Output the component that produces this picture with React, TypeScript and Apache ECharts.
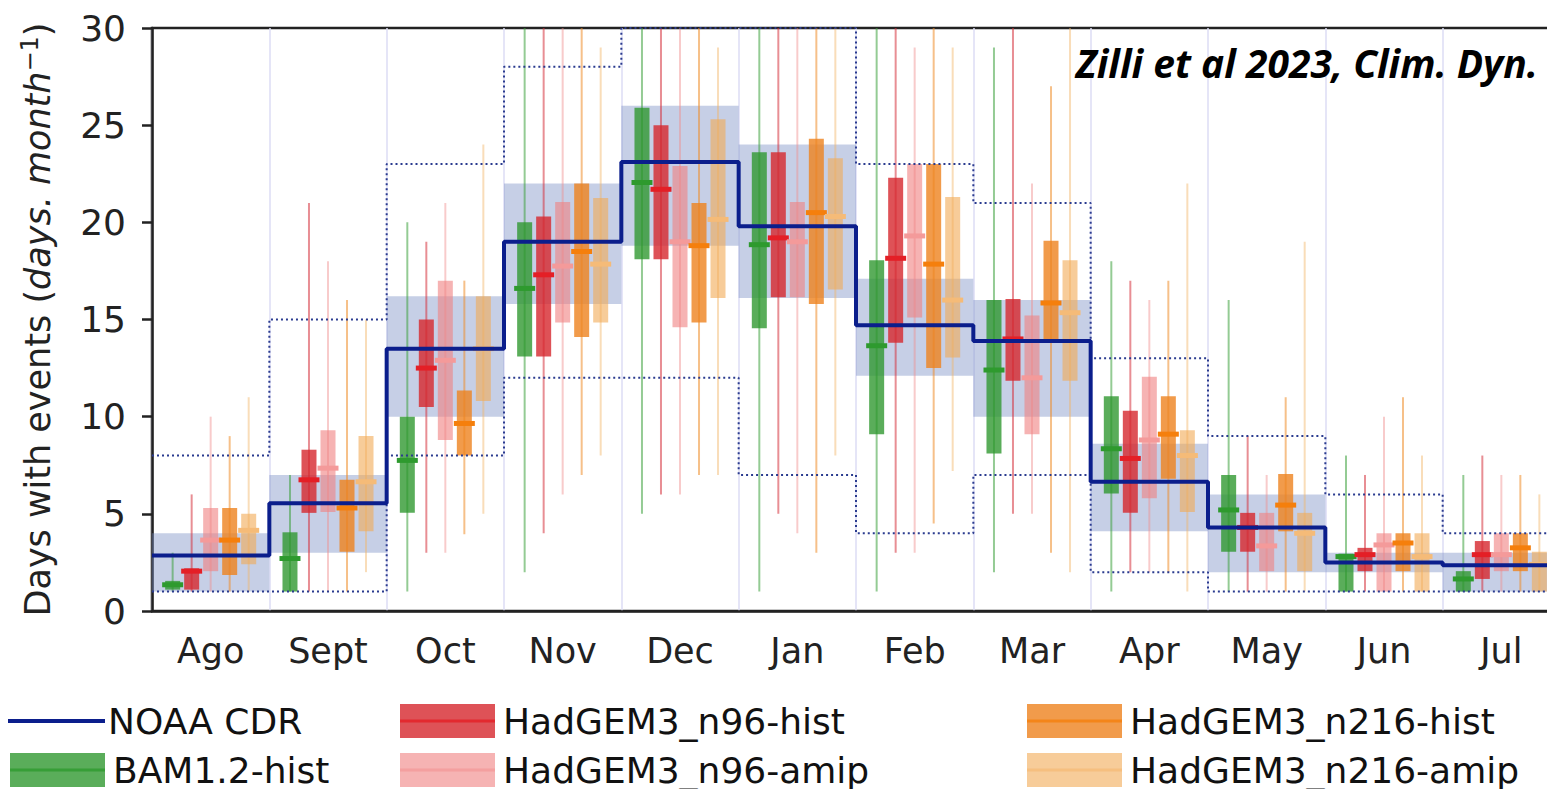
import React, { useEffect, useRef } from "react";
import * as echarts from "echarts";

// ---------------- DATA ----------------
const months = ["Ago", "Sept", "Oct", "Nov", "Dec", "Jan", "Feb", "Mar", "Apr", "May", "Jun", "Jul"];

// NOAA CDR observed value (step line)
const noaaCdr = [2.85, 5.55, 13.5, 19.0, 23.1, 19.8, 14.7, 13.9, 6.65, 4.3, 2.5, 2.35];
// shaded band around observations
const noaaBandLow = [1, 3, 10, 15.8, 18.8, 16.1, 12.1, 10, 4.1, 2, 2, 1];
const noaaBandHigh = [4, 7, 16.2, 22, 26, 24, 17.1, 16, 8.6, 6, 3, 3];
// dotted envelope
const noaaEnvLow = [1, 1, 8, 12, 12, 7, 4, 7, 2, 1, 1, 1];
const noaaEnvHigh = [8, 15, 23, 28, 30, 30, 23, 21, 13, 9, 6, 4];

// each model: per month [min, q1, median, q3, max]
const bamHist = [
  [1, 1.1, 1.35, 1.55, 3], [1, 1, 2.7, 4.05, 7], [1, 5.05, 7.75, 10, 20], [2, 13.1, 16.6, 20, 30],
  [5, 18.1, 22.05, 25.9, 30], [1, 14.55, 18.85, 23.6, 30], [1, 9.1, 13.65, 18.05, 30], [2, 8.1, 12.4, 16, 29],
  [1, 6.05, 8.35, 11.05, 18], [1, 3.05, 5.2, 7, 16], [1, 1, 2.8, 2.95, 8], [1, 1, 1.65, 2.05, 7],
];
const n96Hist = [
  [1, 1.1, 2.05, 2.2, 6], [1, 5.05, 6.75, 8.3, 21], [3, 10.5, 12.5, 15, 19], [4, 13.1, 17.3, 20.3, 30],
  [6, 18.1, 21.7, 25, 30], [5, 16.15, 19.2, 23.6, 30], [3, 13.8, 18.15, 22.3, 30], [5, 11.85, 14.0, 16.05, 30],
  [2, 5.05, 7.85, 10.3, 17], [1, 3.05, 4.3, 5.05, 9], [1, 2.05, 2.9, 3.25, 7], [1, 1.65, 2.9, 3.6, 8],
];
const n96Amip = [
  [1, 2.05, 3.65, 5.3, 10], [1, 5.1, 7.35, 9.3, 18], [3, 8.8, 12.9, 17, 21], [6, 14.85, 17.75, 21.05, 30],
  [6, 14.6, 19.0, 22.9, 30], [4, 16.15, 19.0, 21.05, 30], [3, 15.1, 19.3, 23, 29], [5, 9.1, 12.0, 15.2, 22],
  [2, 5.8, 8.8, 12.05, 16], [1, 2.05, 3.35, 5.05, 7], [1, 1, 3.4, 4, 10], [1, 2.05, 2.9, 4, 7],
];
const n216Hist = [
  [1, 1.85, 3.65, 5.3, 9], [1, 3.05, 5.3, 6.75, 16], [3.95, 8, 9.65, 11.35, 17], [7, 14.1, 18.5, 22, 30],
  [7, 14.85, 18.8, 21, 30], [3, 15.8, 20.5, 24.3, 30], [4.5, 12.5, 17.85, 23, 30], [3, 14, 15.85, 19.05, 27],
  [2, 6.8, 9.1, 11.05, 17], [1, 4.1, 5.45, 7.05, 11], [1, 2.05, 3.5, 4, 11], [1, 2.05, 3.25, 4, 7],
];
const n216Amip = [
  [1, 2.4, 4.15, 5, 11], [2, 4.1, 6.65, 9, 15], [5, 10.8, 13.5, 16.2, 24], [8, 14.85, 17.85, 21.25, 29],
  [7, 16.1, 20.15, 25.3, 29], [8, 16.55, 20.3, 23.3, 30], [7.2, 13.05, 16.0, 21.3, 29], [2, 11.85, 15.35, 18.05, 30],
  [1, 5.1, 8.0, 9.3, 22], [1, 2.05, 4.0, 5.05, 19], [1, 1, 2.8, 4, 8], [1, 1, 2.4, 3.05, 6],
];

// ---------------- STYLES ----------------
const FONT = "DejaVu Sans";
const models = [
  { name: "BAM1.2-hist", data: bamHist, box: "rgba(44,150,44,0.78)", med: "#2e9a2e", wh: "rgba(60,160,60,0.55)" },
  { name: "HadGEM3_n96-hist", data: n96Hist, box: "rgba(214,39,45,0.8)", med: "#e41f26", wh: "rgba(214,50,60,0.55)" },
  { name: "HadGEM3_n96-amip", data: n96Amip, box: "rgba(240,128,128,0.6)", med: "#f49a9a", wh: "rgba(240,140,140,0.45)" },
  { name: "HadGEM3_n216-hist", data: n216Hist, box: "rgba(238,130,30,0.8)", med: "#f57f0c", wh: "rgba(238,140,40,0.55)" },
  { name: "HadGEM3_n216-amip", data: n216Amip, box: "rgba(242,170,85,0.6)", med: "#f5bb78", wh: "rgba(242,180,100,0.45)" },
];
const NAVY = "#0b1e8c";
const BAND = "rgba(120,140,195,0.42)";

function stepData(vals: number[]) {
  const d = vals.map((v, i) => [i, v]);
  d.push([vals.length, vals[vals.length - 1]]);
  return d;
}

export default function App() {
  const ref = useRef<HTMLDivElement>(null);
  useEffect(() => {
    if (!ref.current) return;
    const chart = echarts.init(ref.current, undefined, { renderer: "svg" });

    const bandSeries = {
      type: "custom",
      xAxisIndex: 1,
      z: 1,
      data: months.map((_, i) => [i, noaaBandLow[i], noaaBandHigh[i]]),
      encode: { x: 0, y: [1, 2] },
      renderItem: (_p: any, api: any) => {
        const i = api.value(0);
        const a = api.coord([i, api.value(2)]);
        const b = api.coord([i + 1, api.value(1)]);
        return { type: "rect", shape: { x: a[0], y: a[1], width: b[0] - a[0], height: b[1] - a[1] }, style: { fill: BAND } };
      },
    };

    const modelSeries = models.map((m, mi) => ({
      type: "custom",
      name: m.name,
      xAxisIndex: 1,
      z: 3,
      data: months.map((_, i) => [i, ...m.data[i]]),
      encode: { x: 0, y: [1, 2, 3, 4, 5] },
      renderItem: (_p: any, api: any) => {
        const i = api.value(0);
        const xc = i + 0.5 + (mi - 2) * 0.162;
        const pMin = api.coord([xc, api.value(1)]);
        const pQ1 = api.coord([xc, api.value(2)]);
        const pMed = api.coord([xc, api.value(3)]);
        const pQ3 = api.coord([xc, api.value(4)]);
        const pMax = api.coord([xc, api.value(5)]);
        const bw = 15, mw = 21;
        return {
          type: "group",
          children: [
            { type: "line", shape: { x1: pMin[0], y1: pMin[1], x2: pMax[0], y2: pMax[1] }, style: { stroke: m.wh, lineWidth: 2 } },
            { type: "rect", shape: { x: pQ1[0] - bw / 2, y: pQ3[1], width: bw, height: pQ1[1] - pQ3[1] }, style: { fill: m.box } },
            { type: "line", shape: { x1: pMed[0] - mw / 2, y1: pMed[1], x2: pMed[0] + mw / 2, y2: pMed[1] }, style: { stroke: m.med, lineWidth: 5 } },
          ],
        };
      },
    }));

    const lineCommon = { type: "line", xAxisIndex: 1, step: "end", symbol: "none", silent: true };

    const legendItems = [
      { label: "NOAA CDR", x: 8, y: 721, kind: "line", color: NAVY, med: NAVY },
      { label: models[1].name, x: 400, y: 721, kind: "box", color: models[1].box, med: models[1].med },
      { label: models[3].name, x: 1027, y: 721, kind: "box", color: models[3].box, med: models[3].med },
      { label: models[0].name, x: 10, y: 770, kind: "box", color: models[0].box, med: models[0].med },
      { label: models[2].name, x: 400, y: 770, kind: "box", color: models[2].box, med: models[2].med },
      { label: models[4].name, x: 1027, y: 770, kind: "box", color: models[4].box, med: models[4].med },
    ];
    const legendGraphics: any[] = [];
    legendItems.forEach((it) => {
      if (it.kind === "line") {
        legendGraphics.push({ type: "line", shape: { x1: it.x, y1: it.y, x2: 105, y2: it.y }, style: { stroke: it.color, lineWidth: 4 } });
      } else {
        legendGraphics.push({ type: "rect", shape: { x: it.x, y: it.y - 17, width: 95, height: 34 }, style: { fill: it.color } });
        legendGraphics.push({ type: "line", shape: { x1: it.x, y1: it.y, x2: it.x + 95, y2: it.y }, style: { stroke: it.med, lineWidth: 3, opacity: 0.8 } });
      }
      legendGraphics.push({
        type: "text",
        x: it.x + (it.kind === "line" ? 100 : 103),
        y: it.y,
        style: { text: it.label, fontSize: 36, fontFamily: FONT, fill: "#111", verticalAlign: "middle", align: "left" },
      });
    });

    chart.setOption({
      animation: false,
      backgroundColor: "#fff",
      grid: { left: 152, top: 28, width: 1408, height: 583, show: true, borderColor: "#222", borderWidth: 2.5, backgroundColor: "transparent" },
      xAxis: [
        {
          type: "category",
          data: months,
          boundaryGap: true,
          axisLine: { lineStyle: { color: "#222", width: 2.5 } },
          axisTick: { alignWithLabel: true, length: 10, lineStyle: { color: "#222", width: 2.5 } },
          axisLabel: { interval: 0, fontSize: 35, fontFamily: FONT, color: "#222", margin: 22 },
          splitLine: { show: false },
        },
        {
          type: "value",
          min: 0,
          max: 12,
          interval: 1,
          axisLine: { show: false },
          axisTick: { show: false },
          axisLabel: { show: false },
          splitLine: { show: true, lineStyle: { color: "#dcdcf4", width: 1.5 } },
        },
      ],
      yAxis: {
        type: "value",
        min: 0,
        max: 30,
        interval: 5,
        axisLine: { show: true, lineStyle: { color: "#222", width: 2.5 } },
        axisTick: { show: true, length: 10, lineStyle: { color: "#222", width: 2.5 } },
        axisLabel: { fontSize: 36, fontFamily: FONT, color: "#222", margin: 26 },
        splitLine: { show: false },
        name: "{n|Days with events (}{i|days. month}{s|−1}{n|)}",
        nameLocation: "middle",
        nameRotate: 90,
        nameGap: 94,
        nameTextStyle: {
          rich: {
            n: { fontSize: 35, fontFamily: FONT, color: "#222", lineHeight: 40 },
            i: { fontSize: 35, fontFamily: FONT, fontStyle: "italic", color: "#222", lineHeight: 40 },
            s: { fontSize: 24, fontFamily: FONT, color: "#222", lineHeight: 40, verticalAlign: "top" },
          },
        },
      },
      series: [
        bandSeries,
        ...modelSeries,
        { ...lineCommon, name: "envHigh", z: 5, data: stepData(noaaEnvHigh), lineStyle: { color: "#2a3b8f", width: 2, type: [2, 3] } },
        { ...lineCommon, name: "envLow", z: 5, data: stepData(noaaEnvLow), lineStyle: { color: "#2a3b8f", width: 2, type: [2, 3] } },
        { ...lineCommon, name: "NOAA CDR", z: 6, data: stepData(noaaCdr), lineStyle: { color: NAVY, width: 4 } },
      ],
      graphic: [
        {
          type: "text",
          x: 1538,
          y: 62,
          z: 100,
          style: {
            text: "Zilli et al 2023, Clim. Dyn.",
            fontSize: 39,
            fontFamily: "Open Sans",
            fontWeight: "bold",
            fontStyle: "italic",
            fill: "#000",
            align: "right",
            verticalAlign: "middle",
          },
        },
        ...legendGraphics,
      ],
    });
    return () => chart.dispose();
  }, []);

  return (
    <div style={{ position: "fixed", left: 0, top: 0, width: 1547, height: 789, overflow: "hidden", background: "#fff" }}>
      <div ref={ref} style={{ width: 1580, height: 789 }} />
    </div>
  );
}
